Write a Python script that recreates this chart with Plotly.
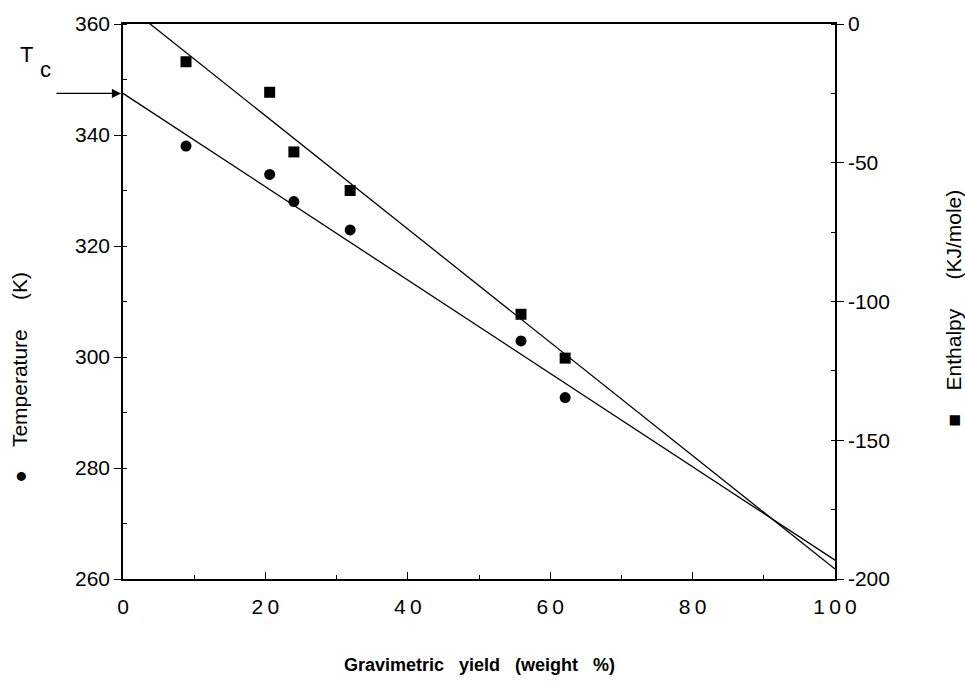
import plotly.graph_objects as go

# Data
yield_pct = [8.85, 20.6, 24.0, 31.9, 55.9, 62.1]
temperature_K = [338.0, 332.9, 328.0, 322.9, 302.9, 292.7]
enthalpy_kJ = [-13.6, -24.6, -46.1, -60.0, -104.6, -120.4]

temp_fit_x = [0, 100]
temp_fit_y = [347.5, 263.4]
enth_fit_x = [0, 100]
enth_fit_y = [7.8, -196.4]

x_ticks = [0, 20, 40, 60, 80, 100]
x_tick_labels = ["0", "2\u20090", "4\u20090", "6\u20090", "8\u20090", "1\u20090\u20090"]
temp_ticks = [260, 280, 300, 320, 340, 360]
enth_ticks = [-200, -150, -100, -50, 0]
enth_tick_labels = ["-200", "-150", "-100", "-50", "0"]

Tc_value = 347.5

FONT = "Liberation Sans, Arial, Helvetica, sans-serif"

fig = go.Figure()

fig.add_trace(go.Scatter(x=temp_fit_x, y=temp_fit_y, mode="lines",
                         line=dict(color="black", width=1.3), showlegend=False))
fig.add_trace(go.Scatter(x=yield_pct, y=temperature_K, mode="markers",
                         marker=dict(symbol="circle", size=11, color="black"),
                         showlegend=False))
fig.add_trace(go.Scatter(x=enth_fit_x, y=enth_fit_y, mode="lines", yaxis="y2",
                         line=dict(color="black", width=1.3), showlegend=False))
fig.add_trace(go.Scatter(x=yield_pct, y=enthalpy_kJ, mode="markers", yaxis="y2",
                         marker=dict(symbol="square", size=11, color="black"),
                         showlegend=False))

axis_common = dict(showgrid=False, zeroline=False, linecolor="black", linewidth=1.5,
                   tickcolor="black", tickfont=dict(family=FONT, size=21, color="black"))

fig.update_layout(
    width=965, height=692,
    margin=dict(l=123, r=130, t=19, b=113),
    plot_bgcolor="white", paper_bgcolor="white",
    xaxis=dict(range=[0, 100], tickvals=x_ticks, ticktext=x_tick_labels,
               ticks="inside", ticklen=7, ticklabelstandoff=8,
               showline=True, mirror=True,
               minor=dict(ticks="inside", ticklen=4, dtick=10, tickcolor="black"),
               **axis_common),
    yaxis=dict(range=[260, 360], tickvals=temp_ticks, ticks="outside", ticklen=7,
               showline=True,
               minor=dict(ticks="inside", ticklen=4, dtick=10, tickcolor="black"),
               **axis_common),
    yaxis2=dict(range=[-200, 0], tickvals=enth_ticks, ticktext=enth_tick_labels,
                ticks="outside", ticklen=7,
                showline=True, overlaying="y", side="right",
                minor=dict(ticks="inside", ticklen=4, dtick=25, tickcolor="black"),
                **axis_common),
)

fig.add_annotation(text="<b>Gravimetric&nbsp;&nbsp; yield&nbsp;&nbsp; (weight&nbsp;&nbsp; %)</b>",
                   xref="paper", yref="paper", x=0.5, y=-0.155, yanchor="middle",
                   showarrow=False, font=dict(family=FONT, size=18, color="black"))
fig.add_annotation(text="●&nbsp;&nbsp;&nbsp; Temperature&nbsp;&nbsp;&nbsp;&nbsp; (K)",
                   xref="paper", yref="paper", x=-0.145, y=0.364, xanchor="center",
                   yanchor="middle", textangle=-90, showarrow=False,
                   font=dict(family=FONT, size=21, color="black"))
fig.add_annotation(text="■&nbsp;&nbsp;&nbsp; Enthalpy&nbsp;&nbsp;&nbsp;&nbsp; (KJ/mole)",
                   xref="paper", yref="paper", x=1.167, y=0.489, xanchor="center",
                   yanchor="middle", textangle=-90, showarrow=False,
                   font=dict(family=FONT, size=21, color="black"))

# Tc arrow
fig.add_annotation(x=0, y=Tc_value, xref="x", yref="y", ax=-68, ay=0,
                   showarrow=True, arrowhead=2, arrowsize=1.4, arrowwidth=1.3,
                   arrowcolor="black", standoff=2, text="")
fig.add_annotation(text="T", xref="paper", yref="paper", x=-0.147, y=0.971,
                   showarrow=False, font=dict(family=FONT, size=22, color="black"))
fig.add_annotation(text="c", xref="paper", yref="paper", x=-0.12, y=0.945,
                   showarrow=False, font=dict(family=FONT, size=22, color="black"))

fig.write_html("out.html")
